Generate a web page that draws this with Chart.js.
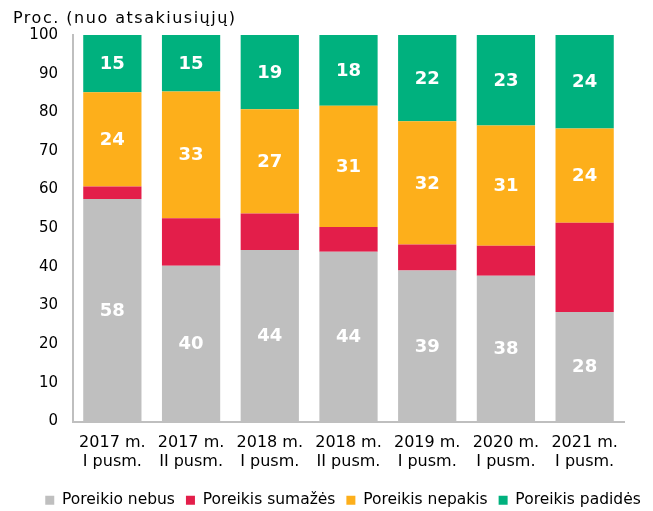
<!DOCTYPE html>
<html>
<head>
<meta charset="utf-8">
<script src="https://cdn.jsdelivr.net/npm/chart.js@4/dist/chart.umd.min.js"></script>
<style>
  html, body { margin: 0; padding: 0; background: #fff; }
  #wrap { position: relative; width: 653px; height: 511px; }
  #yTitle { position: absolute; left: 13px; top: 8px; font: 16px "DejaVu Sans", sans-serif; letter-spacing: 1.5px; color: #000; }
</style>
</head>
<body>
<div id="wrap">
  <div id="yTitle">Proc. (nuo atsakiusiųjų)</div>
  <canvas id="c" width="653" height="511"></canvas>
</div>
<script>
const categories = [
  ["2017 m.", "I pusm."], ["2017 m.", "II pusm."], ["2018 m.", "I pusm."], ["2018 m.", "II pusm."],
  ["2019 m.", "I pusm."], ["2020 m.", "I pusm."], ["2021 m.", "I pusm."]
];
const nebus = [57.6, 40.3, 44.4, 43.9, 39.1, 37.7, 28.3];
const sumazes = [3.2, 12.3, 9.4, 6.4, 6.7, 7.8, 23.1];
const nepakis = [24.4, 32.8, 27.0, 31.4, 31.9, 31.1, 24.4];
const padides = [14.8, 14.6, 19.2, 18.3, 22.3, 23.4, 24.2];

const FONT = '"DejaVu Sans", sans-serif';

// white bold value labels in the middle of each segment (red segments unlabeled)
const segLabels = {
  id: "segLabels",
  afterDatasetsDraw(chart) {
    const ctx = chart.ctx;
    ctx.save();
    ctx.font = "bold 18px " + FONT;
    ctx.fillStyle = "#fff";
    ctx.textAlign = "center";
    ctx.textBaseline = "middle";
    chart.data.datasets.forEach((ds, i) => {
      if (!ds.showLabels) return;
      chart.getDatasetMeta(i).data.forEach((bar, j) => {
        const mid = (bar.y + bar.base) / 2;
        ctx.fillText(Math.round(ds.data[j]), bar.x, mid + 1);
      });
    });
    ctx.restore();
  }
};

// legend sits lower and further right than Chart.js would put it
const nudgeLegend = {
  id: "nudgeLegend",
  afterLayout(chart) {
    const lg = chart.legend;
    lg.top += 7; lg.bottom += 7;
    lg.left += 31; lg.right += 31;
  }
};

new Chart(document.getElementById("c"), {
  type: "bar",
  data: {
    labels: categories,
    datasets: [
      { label: "Poreikio nebus", data: nebus, backgroundColor: "#BFBFBF", showLabels: true },
      { label: "Poreikis sumažės", data: sumazes, backgroundColor: "#E31E4A", showLabels: false },
      { label: "Poreikis nepakis", data: nepakis, backgroundColor: "#FDAF1B", showLabels: true },
      { label: "Poreikis padidės", data: padides, backgroundColor: "#00B17E", showLabels: true }
    ]
  },
  options: {
    responsive: false,
    animation: false,
    layout: { padding: { top: 35, right: 29, bottom: 0, left: 0 } },
    datasets: { bar: { categoryPercentage: 0.74, barPercentage: 1, borderWidth: 0 } },
    scales: {
      x: {
        stacked: true,
        grid: { display: false },
        border: { color: "#BFBFBF", width: 2 },
        ticks: { color: "#000", font: { family: FONT, size: 16 }, padding: 4, maxRotation: 0 },
        afterFit: (scale) => { scale.height = 53; }
      },
      y: {
        stacked: true,
        min: 0, max: 100,
        grid: { display: false, drawTicks: false },
        border: { color: "#BFBFBF", width: 2 },
        ticks: { stepSize: 10, color: "#000", font: { family: FONT, size: 15 }, padding: 15 },
        afterFit: (scale) => { scale.width = 73; }
      }
    },
    plugins: {
      legend: {
        position: "bottom",
        labels: { boxWidth: 9, boxHeight: 9, padding: 11, color: "#000", font: { family: FONT, size: 15.5 } }
      },
      tooltip: { enabled: false }
    }
  },
  plugins: [segLabels, nudgeLegend]
});
</script>
</body>
</html>
